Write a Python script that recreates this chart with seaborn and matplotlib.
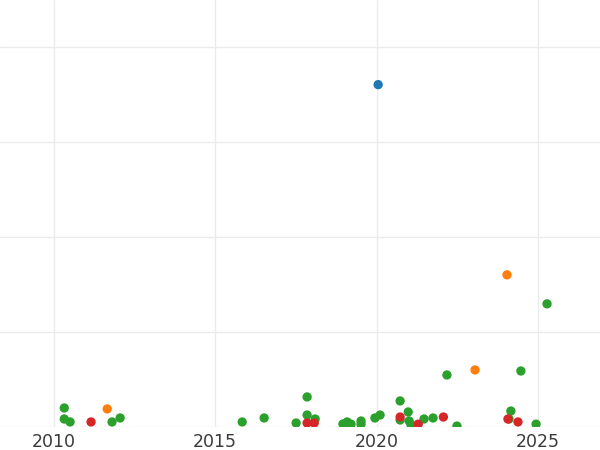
import pandas as pd
import matplotlib.pyplot as plt
import seaborn as sns

# values
green_year = [2010.33, 2010.33, 2010.51, 2011.81, 2012.06, 2015.84, 2016.52, 2017.51,
              2017.85, 2017.85, 2018.10, 2018.96, 2019.09, 2019.21, 2019.52, 2019.52,
              2019.95, 2020.11, 2020.73, 2020.73, 2020.98, 2021.01, 2021.07, 2021.47,
              2021.75, 2022.18, 2022.49, 2024.16, 2024.10, 2024.47, 2024.94, 2025.28]
green_value = [0.20, 0.084, 0.053, 0.053, 0.095, 0.053, 0.095, 0.042,
               0.316, 0.126, 0.084, 0.032, 0.053, 0.030, 0.063, 0.030,
               0.095, 0.126, 0.274, 0.074, 0.158, 0.063, 0.020, 0.084,
               0.095, 0.547, 0.010, 0.168, 0.084, 0.589, 0.030, 1.295]

orange_year = [2011.66, 2023.05, 2024.04]
orange_value = [0.19, 0.60, 1.60]

red_year = [2011.16, 2017.85, 2018.07, 2020.73, 2021.29, 2022.07, 2024.07, 2024.38]
red_value = [0.053, 0.042, 0.042, 0.105, 0.030, 0.105, 0.084, 0.053]

blue_year = [2020.05]
blue_value = [3.60]

groups = ["blue", "orange", "green", "red"]
palette = ["#1f77b4", "#ff7f0e", "#2ca02c", "#d62728"]

df = pd.concat([
    pd.DataFrame({"year": blue_year, "value": blue_value, "group": "blue"}),
    pd.DataFrame({"year": orange_year, "value": orange_value, "group": "orange"}),
    pd.DataFrame({"year": green_year, "value": green_value, "group": "green"}),
    pd.DataFrame({"year": red_year, "value": red_value, "group": "red"}),
], ignore_index=True)

sns.set_theme(style="whitegrid")
fig = plt.figure(figsize=(6, 4.5), dpi=100)
ax = fig.add_axes([0, 23 / 450, 1, 427 / 450])

sns.scatterplot(data=df, x="year", y="value", hue="group", hue_order=groups,
                palette=palette, s=45, linewidth=0, alpha=1, legend=False, ax=ax)

ax.set_xlim(2008.34, 2026.92)
ax.set_ylim(0, 4.49)
ax.set_xticks([2010, 2015, 2020, 2025])
ax.set_yticks([0, 1, 2, 3, 4])
ax.set_yticklabels([])
ax.grid(True, color="#ebebeb", linewidth=1)
ax.tick_params(axis="x", length=0, pad=4, labelsize=12.5, labelcolor="#3a3a3a")
ax.tick_params(axis="y", length=0)
ax.set_xlabel("")
ax.set_ylabel("")
for s in ax.spines.values():
    s.set_visible(False)

plt.savefig("out.png", dpi=100)
